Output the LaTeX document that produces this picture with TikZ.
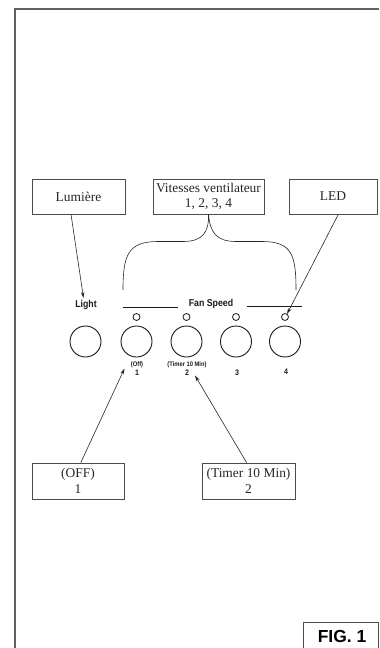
\documentclass[tikz,border=0pt]{standalone}
\usepackage{fontspec}
\setmainfont{Liberation Serif}
\setsansfont{Liberation Sans}
\newfontfamily\condsans[FakeStretch=0.88]{Liberation Sans}
\usetikzlibrary{arrows.meta,calc}
\begin{document}
\begin{tikzpicture}[x=1bp,y=-1bp,
  frame/.style={draw=black!62,line width=2bp},
  labelbox/.style={draw=black!70,line width=0.7bp,inner sep=0pt,font=\fontsize{13.5}{15.5}\selectfont,align=center,text=black!85},
  btn/.style={draw=black!90,line width=0.9bp,circle,minimum size=31bp,inner sep=0pt},
  led/.style={draw=black!90,line width=0.8bp,circle,minimum size=7bp,inner sep=0pt},
  paneltext/.style={font=\condsans\bfseries\fontsize{10}{11}\selectfont,inner sep=0pt,text=black!90},
  tinytext/.style={font=\condsans\bfseries\fontsize{6.6}{7}\selectfont,inner sep=0pt,text=black!90},
  numtext/.style={font=\condsans\bfseries\fontsize{8}{9}\selectfont,inner sep=0pt,text=black!90},
  conn/.style={draw=black!85,line width=0.6bp},
  arr/.style={conn,-{Stealth[length=6bp,width=3.5bp]}}
]
\useasboundingbox (0,0) rectangle (379,648);
% frame
\draw[frame] (15,648) -- (15,8.7) -- (379,8.7);
% FIG box
\draw[draw=black!70,line width=1bp] (303.5,649) -- (303.5,622.5) -- (378,622.5) -- (378,649);
\node[font=\sffamily\bfseries\fontsize{17.5}{19}\selectfont,inner sep=0pt] (fig) at (342,636.5) {FIG.\ 1};

% label boxes
\node[labelbox,minimum width=93bp,minimum height=35bp] (lum) at (78.5,196.5) {Lumière};
\node[labelbox,minimum width=111bp,minimum height=35bp] (vit) at (208.5,196.5) {Vitesses ventilateur\\1, 2, 3, 4};
\node[labelbox,minimum width=88bp,minimum height=35bp] (ledbox) at (333,196.5) {LED};
\node[labelbox,minimum width=92bp,minimum height=36bp] (off) at (78,481) {(OFF)\\1};
\node[labelbox,minimum width=93bp,minimum height=36bp] (tim) at (248.5,481) {(Timer 10 Min)\\2};

% panel
\node[paneltext] (light) at (86,305) {Light};
\node[paneltext] (fan) at (211,304) {Fan Speed};
\coordinate (fl1) at (123,307);
\coordinate (fl2) at (178,307);
\coordinate (fr1) at (247,306.5);
\coordinate (fr2) at (302,306.5);
\draw[line width=0.8bp,black!90] (fl1) -- (fl2);
\draw[line width=0.8bp,black!90] (fr1) -- (fr2);

\node[btn] (b0) at (85.5,341.5) {};
\node[btn] (b1) at (136.5,341.5) {};
\node[btn] (b2) at (186.5,341.5) {};
\node[btn] (b3) at (236,341.5) {};
\node[btn] (b4) at (285,341.5) {};
\node[led] (l1) at (136.5,317) {};
\node[led] (l2) at (186.5,317) {};
\node[led] (l3) at (236,317) {};
\node[led] (l4) at (285,317) {};

\node[tinytext] (offt) at (137,365) {(Off)};
\node[numtext] (n1) at (137,372.5) {1};
\node[tinytext] (timt) at (187,365) {(Timer 10 Min)};
\node[numtext] (n2) at (187,372.5) {2};
\node[numtext] (n3) at (237,372.5) {3};
\node[numtext] (n4) at (286,371.5) {4};

% brace
\coordinate (bl) at (123,290);
\coordinate (br) at (296,290);
\draw[conn] (bl) .. controls (123,255) and (128,241.5) .. (158,241.5)
  -- (183,241.5) .. controls (203,241.5) and (209,232) .. (vit.south)
  .. controls (210,232) and (216,241.5) .. (236,241.5)
  -- (262,241.5) .. controls (292,241.5) and (296,255) .. (br);

% connectors
\coordinate (lumtip) at (83.5,298);
\draw[arr] ($(lum.south west)!0.42!(lum.south east)$) -- (lumtip);
\coordinate (ledtip) at (287,314);
\draw[arr] ($(ledbox.south west)!0.56!(ledbox.south east)$) -- (ledtip);
\coordinate (offtip) at (124.5,368.5);
\draw[arr] ($(off.north west)!0.53!(off.north east)$) -- (offtip);
\coordinate (timtip) at (195,375.5);
\draw[arr] ($(tim.north west)!0.48!(tim.north east)$) -- (timtip);
\end{tikzpicture}
\end{document}
